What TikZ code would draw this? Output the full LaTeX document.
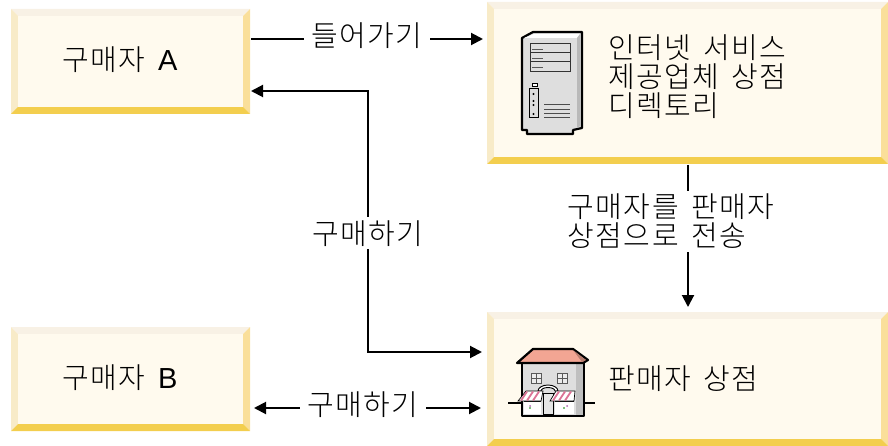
\documentclass[tikz,border=0pt]{standalone}
\usepackage{fontspec}
\setmainfont{Liberation Sans}
\newfontfamily\krfont[LetterSpace=5,WordSpace=1.6,UprightFont={* Light}]{Noto Sans CJK KR}
\newfontfamily\latfont{Liberation Sans}
\usetikzlibrary{calc,arrows.meta}
\definecolor{facecol}{HTML}{FFFAEE}
\definecolor{bevtop}{HTML}{F8F1E5}
\definecolor{bevleft}{HTML}{F8EBC8}
\definecolor{bevright}{HTML}{FADF9A}
\definecolor{bevbot}{HTML}{F3CE4E}
\definecolor{roofcol}{HTML}{F2A593}
\definecolor{wallcol}{HTML}{DEDEDE}
% box with four bevelled edges, named from its corners
\newcommand{\bevelbox}[5]{
  \coordinate (#1nw) at (#2,#3);
  \coordinate (#1se) at (#4,#5);
  \fill[bevtop] (#2,#3) -- (#4,#3) -- ($(#4,#3)+(-7,7)$) -- ($(#2,#3)+(7,7)$) -- cycle;
  \fill[bevleft] (#2,#3) -- (#2,#5) -- ($(#2,#5)+(7,-7)$) -- ($(#2,#3)+(7,7)$) -- cycle;
  \fill[bevright] (#4,#3) -- (#4,#5) -- ($(#4,#5)+(-7,-7)$) -- ($(#4,#3)+(-7,7)$) -- cycle;
  \fill[bevbot] (#2,#5) -- (#4,#5) -- ($(#4,#5)+(-7,-7)$) -- ($(#2,#5)+(7,-7)$) -- cycle;
  \fill[facecol] ($(#2,#3)+(7,7)$) rectangle ($(#4,#5)+(-7,-7)$);
}
\begin{document}
\begin{tikzpicture}[
    x=1pt, y=-1pt,
    lbl/.style={font=\fontsize{29}{29}\selectfont\krfont, inner sep=0pt, align=left},
    toplbl/.style={lbl, fill=white, inner ysep=3pt, inner xsep=7pt},
    arr/.style={-{Triangle[length=12pt,width=12pt]}, line width=2pt, black},
    barr/.style={{Triangle[length=12pt,width=12pt]}-{Triangle[length=12pt,width=12pt]}, line width=2pt, black},
    iconline/.style={black, line width=2.2pt, line join=round}
  ]
  \useasboundingbox (0,0) rectangle (888,446);

  % Boxes
  \bevelbox{buyera}{11}{9}{250}{114}
  \bevelbox{buyerb}{11}{327}{250}{431}
  \bevelbox{dir}{487}{2}{888}{164}
  \bevelbox{shop}{487}{312}{888}{446}

  % Box texts
  \node[lbl] (buyeratext) at (120,60) {구매자 {\latfont A}};
  \node[lbl] (buyerbtext) at (120,378) {구매자 {\latfont B}};
  \node[lbl, anchor=west] (dirtext) at (608,76.5) {인터넷 서비스\\제공업체 상점\\디렉토리};
  \node[lbl, anchor=west] (shoptext) at (608,379) {판매자 상점};

  % Connectors
  \coordinate (enterfrom) at (251,39);
  \coordinate (enterto) at (483,39);
  \coordinate (buyfrom) at (251,91);
  \coordinate (buyto) at (482,352);
  \coordinate (buybend) at (368,91);
  \coordinate (sendfrom) at (688,165);
  \coordinate (sendto) at (688,307);
  \coordinate (directfrom) at (254,408);
  \coordinate (directto) at (481,408);

  \draw[arr] (enterfrom) -- node[toplbl, yshift=3pt] (entertext) {들어가기} (enterto);
  \draw[barr] (buyfrom) -- (buybend) -- node[toplbl, pos=0.541, yshift=-1pt] (buytext) {구매하기} (buybend |- buyto) -- (buyto);
  \draw[arr] (sendfrom) -- node[toplbl, pos=0.39, xshift=-17pt, yshift=-1pt] (sendtext) {구매자를 판매자\\상점으로 전송} (sendto);
  \draw[barr] (directfrom) -- node[toplbl, xshift=-4.5pt, yshift=3pt] (directtext) {구매하기} (directto);

  % Server icon
  \filldraw[iconline, fill=wallcol] (522,38) -- (533,32) -- (582,32) -- (582,128) -- (573,130) -- (573,134) -- (527,134) -- (527,130) -- (522,130) -- cycle;
  \fill[white] (524,38) -- (534,34) -- (580,34) -- (577,38) -- cycle;
  \fill[gray!55] (577,38) -- (580,34) -- (580,126) -- (577,128) -- cycle;
  \draw[black!80, line width=1pt, fill=gray!25] (530,44) rectangle (570,72);
  \foreach \yy in {53,62} {
    \draw[black!80, line width=1pt] (530,\yy) -- (570,\yy);
  }
  \foreach \yy in {50,59,68} {
    \draw[gray!70!black, line width=1pt] (532,\yy) -- (543,\yy);
  }
  \fill[white, draw=black, line width=0.8pt] (532,83) rectangle (537,86);
  \draw[black, line width=1pt, fill=wallcol] (529,89) rectangle (538,118);
  \foreach \yy in {94,101,105,114} {
    \fill[black] (533.5,\yy) circle (1.2pt);
  }
  \foreach \yy in {105,110,114,118} {
    \draw[black!70, line width=1pt] (544,\yy) -- (570,\yy);
  }

  % Shop icon
  \draw[black, line width=1.8pt] (508,403) -- (595,403);
  \filldraw[iconline, fill=wallcol] (522,363) rectangle (584,416);
  \fill[gray!50] (576,364) rectangle (583,415);
  \filldraw[iconline, fill=roofcol] (517,363) -- (533,349) -- (573,349) -- (588,360) -- (583,363) -- cycle;
  \fill[roofcol!75!black] (573,350) -- (586,360) -- (582,362) -- cycle;
  \foreach \xx in {531,557} {
    \draw[gray!70!black, fill=gray!15, line width=0.9pt] (\xx,373) rectangle ++(10,10);
    \draw[gray!70!black, line width=0.7pt] (\xx+5,373) -- ++(0,10) (\xx,378) -- ++(10,0);
  }
  \draw[black, line width=0.9pt, fill=white] (538,391) arc[start angle=180, end angle=0, x radius=10pt, y radius=6pt] -- ++(-3,0) arc[start angle=0, end angle=180, x radius=7pt, y radius=3.5pt] -- cycle;
  \filldraw[black, line width=0.9pt, fill=gray!20] (543,393) rectangle (553,414);
  \fill[white] (524,401) rectangle (541,414);
  \fill[white] (555,401) rectangle (574,414);
  \draw[black, line width=0.9pt] (524,401) -- (541,401) (555,401) -- (574,401);
  \fill[violet!60] (530,406) circle (1pt) (567,406) circle (1pt);
  \fill[green!50!black] (530,408) circle (0.8pt) (564,408) circle (0.8pt);
  \filldraw[black, line width=0.7pt, fill=white] (518,401) -- (526,391) -- (543,391) -- (541,401) -- cycle;
  \filldraw[black, line width=0.7pt, fill=white] (550,401) -- (556,391) -- (575,391) -- (574,401) -- cycle;
  \foreach \xx in {521,527,533} {
    \draw[violet!50!red!55, line width=1.8pt] (\xx,400.5) -- (\xx+6,391.5);
  }
  \foreach \xx in {553,559,565} {
    \draw[violet!50!red!55, line width=1.8pt] (\xx,400.5) -- (\xx+6,391.5);
  }
\end{tikzpicture}
\end{document}
